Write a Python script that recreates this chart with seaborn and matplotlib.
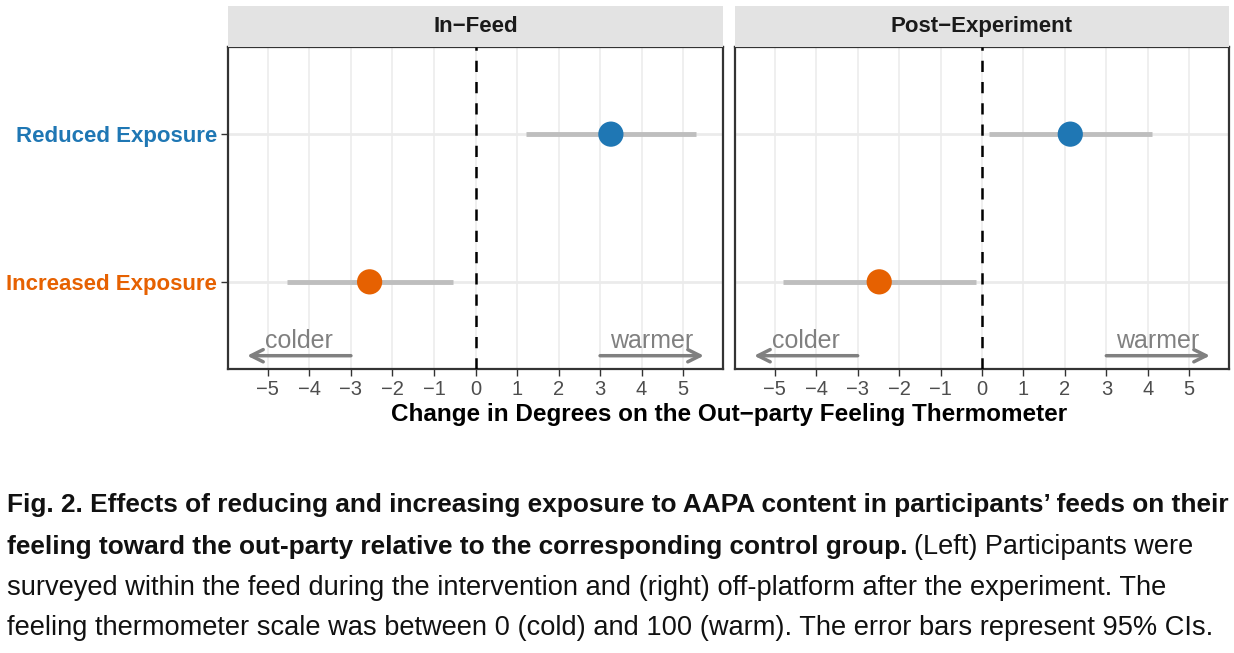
import matplotlib
matplotlib.use("Agg")
import matplotlib.pyplot as plt
import seaborn as sns
import pandas as pd

# ==============================
# DATA
# ==============================
panels = ["In\u2212Feed", "Post\u2212Experiment"]
conditions = ["Reduced Exposure", "Increased Exposure"]
estimate = {"In\u2212Feed": [3.26, -2.55], "Post\u2212Experiment": [2.13, -2.48]}
ci_low = {"In\u2212Feed": [1.22, -4.53], "Post\u2212Experiment": [0.16, -4.79]}
ci_high = {"In\u2212Feed": [5.32, -0.55], "Post\u2212Experiment": [4.11, -0.14]}
ypos = [2, 1]
xticks = [-5, -4, -3, -2, -1, 0, 1, 2, 3, 4, 5]

colors = {"Reduced Exposure": "#1f77b4", "Increased Exposure": "#e66101"}

rows = []
for p in panels:
    for i, c in enumerate(conditions):
        rows.append({"panel": p, "condition": c, "y": ypos[i],
                     "est": estimate[p][i], "lo": ci_low[p][i], "hi": ci_high[p][i]})
df = pd.DataFrame(rows)

# ==============================
# PLOT
# ==============================
sns.set_theme(style="white")
plt.rcParams["font.family"] = ["Liberation Sans", "DejaVu Sans"]

W, H = 1234, 653
fig = plt.figure(figsize=(W / 100, H / 100), dpi=100)

boxes = [(228, 723), (735, 1229)]
ax_top, ax_bot = 47, 369
strip_top = 6

for k, p in enumerate(panels):
    x0, x1 = boxes[k]
    ax = fig.add_axes([x0 / W, 1 - ax_bot / H, (x1 - x0) / W, (ax_bot - ax_top) / H])
    sub = df[df["panel"] == p]

    for xt in xticks:
        ax.axvline(xt, color="#ebebeb", lw=1.1, zorder=0)
    for yv in ypos:
        ax.axhline(yv, color="#ebebeb", lw=2, zorder=0)

    ax.hlines(sub["y"], sub["lo"], sub["hi"], color="#bebebe", lw=3.5, zorder=2)
    sns.scatterplot(data=sub, x="est", y="y", hue="condition", palette=colors,
                    s=330, edgecolor="none", legend=False, ax=ax, zorder=3)
    ax.axvline(0, color="black", lw=1.8, ls=(0, (4.5, 4)), zorder=4)

    # colder / warmer arrows
    ax.annotate("", xy=(-5.5, 0.5), xytext=(-3, 0.5),
                arrowprops=dict(arrowstyle="->", color="#808080", lw=2.5,
                                mutation_scale=22, shrinkA=0, shrinkB=0))
    ax.annotate("", xy=(5.5, 0.5), xytext=(3, 0.5),
                arrowprops=dict(arrowstyle="->", color="#808080", lw=2.5,
                                mutation_scale=22, shrinkA=0, shrinkB=0))
    ax.text(-4.25, 0.52, "colder", color="#808080", fontsize=18, ha="center", va="bottom")
    ax.text(4.25, 0.52, "warmer", color="#808080", fontsize=18, ha="center", va="bottom")

    ax.set_xlim(-5.96, 5.96)
    ax.set_ylim(0.41, 2.59)
    ax.set_xticks(xticks)
    ax.set_xticklabels([f"{t}".replace("-", "\u2212") for t in xticks])
    ax.tick_params(axis="x", length=5, width=1, color="#333333", labelsize=14.5,
                   labelcolor="#4d4d4d", pad=3, bottom=True)
    ax.set_xlabel("")
    ax.set_ylabel("")
    if k == 0:
        ax.set_yticks(ypos)
        ax.set_yticklabels(conditions)
        ax.tick_params(axis="y", length=5, width=1, color="#333333", labelsize=16, pad=3, left=True)
        for lab in ax.get_yticklabels():
            lab.set_color(colors[lab.get_text()])
            lab.set_fontweight("bold")
    else:
        ax.set_yticks([])
    for s in ax.spines.values():
        s.set_color("#333333")
        s.set_linewidth(1.6)

    # facet strip
    sax = fig.add_axes([x0 / W, 1 - ax_top / H, (x1 - x0) / W, (ax_top - strip_top) / H])
    sax.set_facecolor("#e3e3e3")
    sax.set_xticks([])
    sax.set_yticks([])
    for s in sax.spines.values():
        s.set_visible(False)
    sax.text(0.5, 0.5, p, ha="center", va="center", fontsize=16, fontweight="bold",
             color="#1a1a1a", transform=sax.transAxes)

fig.text(729 / W, 1 - 414 / H, "Change in Degrees on the Out\u2212party Feeling Thermometer",
         ha="center", va="center", fontsize=17.5, fontweight="bold", color="black")

# ==============================
# CAPTION
# ==============================
cap_font = ["Liberation Sans Narrow", "Liberation Sans", "DejaVu Sans"]
lines_y = [505, 547, 588, 628]
fig.text(7 / W, 1 - lines_y[0] / H,
         "Fig. 2. Effects of reducing and increasing exposure to AAPA content in participants\u2019 feeds on their",
         ha="left", va="center", fontsize=18.9, fontweight="bold", family=cap_font, color="#111111")
t1 = fig.text(7 / W, 1 - lines_y[1] / H,
              "feeling toward the out-party relative to the corresponding control group.",
              ha="left", va="center", fontsize=18.9, fontweight="bold", family=cap_font, color="#111111")
fig.canvas.draw()
bb = t1.get_window_extent(renderer=fig.canvas.get_renderer())
fig.text((bb.x1 + 6) / W, 1 - lines_y[1] / H, "(Left) Participants were",
         ha="left", va="center", fontsize=19.5, family=cap_font, color="#111111")
fig.text(7 / W, 1 - lines_y[2] / H,
         "surveyed within the feed during the intervention and (right) off-platform after the experiment. The",
         ha="left", va="center", fontsize=19.6, family=cap_font, color="#111111")
fig.text(7 / W, 1 - lines_y[3] / H,
         "feeling thermometer scale was between 0 (cold) and 100 (warm). The error bars represent 95% CIs.",
         ha="left", va="center", fontsize=19.6, family=cap_font, color="#111111")

plt.savefig("out.png", dpi=100)
plt.close()
